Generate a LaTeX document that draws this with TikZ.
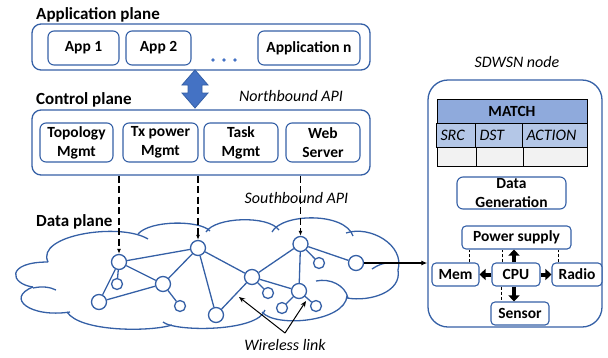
\documentclass[tikz,border=0pt]{standalone}
\usepackage{fontspec}
\setmainfont{Carlito}
\usetikzlibrary{arrows.meta,calc}
\definecolor{bord}{HTML}{3560A6}
\definecolor{acc}{HTML}{4472C4}
\definecolor{hdr}{HTML}{8FAADC}
\definecolor{rowtwo}{HTML}{B4C7E7}
\definecolor{rowthree}{HTML}{F2F2F2}
\newcommand{\bxfont}{\fontsize{15.5}{19}\selectfont\bfseries}
\newcommand{\plfont}{\fontsize{17}{20}\selectfont\bfseries}
\newcommand{\itfont}{\fontsize{16}{19}\selectfont\itshape}
\begin{document}
\begin{tikzpicture}[x=1pt,y=-1pt,
  planebox/.style={draw=bord, line width=1.3pt, rounded corners=9pt, inner sep=0pt},
  box/.style={draw=bord, line width=1.1pt, rounded corners=6pt, fill=white, inner sep=0pt, align=center, font=\bxfont},
  sbox/.style={box, rounded corners=4pt},
  bnode/.style={circle, draw=bord, line width=1.3pt, fill=white, minimum size=15pt, inner sep=0pt},
  snode/.style={bnode, minimum size=11pt},
  net/.style={draw=bord, line width=1.3pt},
  cloudline/.style={draw=bord, line width=1.3pt},
  sdash/.style={draw=black, line width=1.1pt, dash pattern=on 7pt off 3.5pt, -{Latex[length=5pt,width=4pt]}},
  tdash/.style={draw=black, line width=0.8pt, dash pattern=on 3pt off 2pt},
  blockarr/.style={draw=black, line width=4pt, -{Triangle[width=11pt,length=6pt]}},
  cell/.style={draw=black, line width=0.9pt, inner sep=0pt, minimum height=24pt},
  plabel/.style={font=\plfont, anchor=west, inner sep=0pt},
  ilabel/.style={font=\itfont, inner sep=0pt}
]
\useasboundingbox (0,0) rectangle (608,357);

% ---------- Application plane ----------
\node[plabel] (apl) at (36,15) {Application plane};
\node[planebox, minimum width=338pt, minimum height=46pt] (app) at (201,47) {};
\node[box, minimum width=71pt, minimum height=34pt] (app1) at (83.5,48) {App 1};
\node[box, minimum width=65pt, minimum height=34pt] (app2) at (158.5,48) {App 2};
\node[box, minimum width=102pt, minimum height=34pt] (appn) at (309,48) {Application n};
\foreach \x in {213,224,235} \fill[acc] (\x,60) circle (1.8pt);

% ---------- double arrow ----------
\filldraw[fill=acc, draw=bord, line width=0.8pt]
  (195,70) -- (208,85) -- (202,85) -- (202,93) -- (208,93) -- (195,108)
  -- (182,93) -- (188,93) -- (188,85) -- (182,85) -- cycle;

% ---------- Control plane ----------
\node[plabel] (cpl) at (36,100) {Control plane};
\node[ilabel] (nb) at (291,96) {Northbound API};
\node[planebox, minimum width=338pt, minimum height=65pt] (ctrl) at (201,142.5) {};
\node[box, minimum width=73pt, minimum height=39pt] (topo) at (76.5,142.5) {Topology\\Mgmt};
\node[box, minimum width=75pt, minimum height=39pt] (txp) at (160.5,142.5) {Tx power\\Mgmt};
\node[box, minimum width=74pt, minimum height=39pt] (task) at (241,142.5) {Task\\Mgmt};
\node[box, minimum width=74pt, minimum height=39pt] (web) at (323,142.5) {Web\\Server};

% ---------- Data plane ----------
\node[ilabel] (sb) at (296.5,198) {Southbound API};
\node[plabel] (dpl) at (36,222) {Data plane};

% cloud outline
\draw[cloudline] (33,287) .. controls (10,284) and (5,262) .. (48,262);
\draw[cloudline] (48,262) .. controls (35,235) and (120,222) .. (148,239);
\draw[cloudline] (138,234) .. controls (150,220) and (200,220) .. (210,231);
\draw[cloudline] (206,232) .. controls (215,217) and (268,215) .. (279,230);
\draw[cloudline] (272,232) .. controls (282,213) and (345,212) .. (353,236);
\draw[cloudline] (346,233) .. controls (370,225) and (405,245) .. (398,270);
\draw[cloudline] (398,270) .. controls (402,292) and (370,302) .. (347,298);
\draw[cloudline] (347,296) .. controls (345,322) and (275,328) .. (262,312);
\draw[cloudline] (265,310) .. controls (258,332) and (175,332) .. (163,322);
\draw[cloudline] (172,325) .. controls (150,332) and (80,332) .. (67,312);
\draw[cloudline] (70,312) .. controls (30,318) and (5,298) .. (33,287);
% inner arcs
\draw[cloudline] (33,288) .. controls (42,286) and (50,287) .. (56,290);
\draw[cloudline] (316,281) .. controls (330,278) and (345,285) .. (348,298);
\draw[cloudline] (372,269) .. controls (378,265) and (383,263) .. (388,263);

% network nodes
\node[bnode] (n1) at (119,262) {};
\node[bnode] (n2) at (198,248) {};
\node[bnode] (n3) at (300.5,244) {};
\node[bnode] (n4) at (356,263) {};
\node[snode] (s1) at (117,284) {};
\node[bnode] (n5) at (163,284) {};
\node[bnode] (n6) at (99,302) {};
\node[snode] (s2) at (180,306) {};
\node[bnode] (n7) at (216,315) {};
\node[bnode] (n8) at (252,277) {};
\node[snode] (s3) at (268,293) {};
\node[snode] (s4) at (319,263) {};
\node[bnode] (n9) at (299,291) {};
\node[snode] (s5) at (282,308) {};
\node[snode] (s6) at (316,306) {};

\foreach \a/\b in {n1/n2, n1/n6, n1/n5, n1/s1, n5/n6, n5/s2, n5/n2, n2/n7, n2/n8,
                   n7/n8, n8/n3, n8/s3, n8/n9, n3/n9, n3/s4, n3/n4, n9/s5, n9/s6}
  \draw[net] (\a) -- (\b);

% southbound dashed arrows
\draw[sdash] (n1 |- ctrl.south) -- (n1);
\draw[sdash] (n2 |- ctrl.south) -- (n2);
\draw[sdash] (n3 |- ctrl.south) -- (n3);

% wireless link
\node[ilabel] (wl) at (285,345) {Wireless link};
\coordinate (wlc) at (285,333);
\coordinate (wl1) at (239,297);
\coordinate (wl2) at (306,301);
\draw[black, line width=1pt, -{Stealth[length=6pt,width=5pt]}] (wlc) -- (wl1);
\draw[black, line width=1pt, -{Stealth[length=6pt,width=5pt]}] (wlc) -- (wl2);

% ---------- SDWSN node ----------
\node[ilabel] (sdl) at (517,62) {SDWSN node};
\node[draw=bord, line width=1.3pt, rounded corners=20pt, minimum width=174pt, minimum height=247pt, inner sep=0pt] (sd) at (515,203.5) {};

\draw[black, line width=1.3pt, -{Latex[length=6pt,width=5pt]}] (n4) -- (n4 -| sd.west);

% table
\node[cell, fill=hdr, minimum width=150pt, font=\bxfont] (th) at (512,111) {MATCH};
\node[cell, fill=rowtwo, minimum width=39pt, text width=32pt, inner xsep=4pt, align=left, font=\itfont] (src) at (456.5,135) {SRC};
\node[cell, fill=rowtwo, minimum width=47pt, text width=40pt, inner xsep=4pt, align=left, font=\itfont] (dst) at (499.5,135) {DST};
\node[cell, fill=rowtwo, minimum width=64pt, text width=57pt, inner xsep=4pt, align=left, font=\itfont] (act) at (555,135) {ACTION};
\node[cell, fill=rowthree, minimum width=39pt, minimum height=19pt] (e1) at (456.5,156.5) {};
\node[cell, fill=rowthree, minimum width=47pt, minimum height=19pt] (e2) at (499.5,156.5) {};
\node[cell, fill=rowthree, minimum width=64pt, minimum height=19pt] (e3) at (555,156.5) {};

% data generation
\node[box, minimum width=109pt, minimum height=32pt,
      label={[align=center, font=\bxfont, inner sep=0pt]center:Data\\Generation}] (dg) at (511.5,193) {};

% hardware
\node[sbox, minimum width=109pt, minimum height=23pt] (ps) at (516.5,237.5) {Power supply};
\node[sbox, minimum width=47pt, minimum height=23pt] (mem) at (455.5,274.5) {Mem};
\node[sbox, minimum width=48pt, minimum height=23pt] (cpu) at (516,274.5) {CPU};
\node[sbox, minimum width=50pt, minimum height=23pt] (radio) at (577,274.5) {Radio};
\node[sbox, minimum width=58pt, minimum height=23pt] (sensor) at (520,313.5) {Sensor};

\draw[tdash] ([xshift=13.5pt]mem.north) -- ([xshift=13.5pt]mem.north |- ps.south);
\draw[tdash] ([xshift=-14pt]cpu.north) -- ([xshift=-14pt]cpu.north |- ps.south);
\draw[tdash] ([xshift=-19pt]radio.north) -- ([xshift=-19pt]radio.north |- ps.south);
\draw[tdash] ([xshift=-15pt]cpu.south) -- ([xshift=-15pt]cpu.south |- sensor.north);

\draw[blockarr] ([xshift=-2pt]cpu.north) -- ([xshift=-2pt]cpu.north |- ps.south);
\draw[blockarr] ([xshift=-2pt]cpu.south) -- ([xshift=-2pt]cpu.south |- sensor.north);
\draw[blockarr] (cpu.west) -- (mem.east);
\draw[blockarr] (cpu.east) -- (radio.west);
\end{tikzpicture}
\end{document}
